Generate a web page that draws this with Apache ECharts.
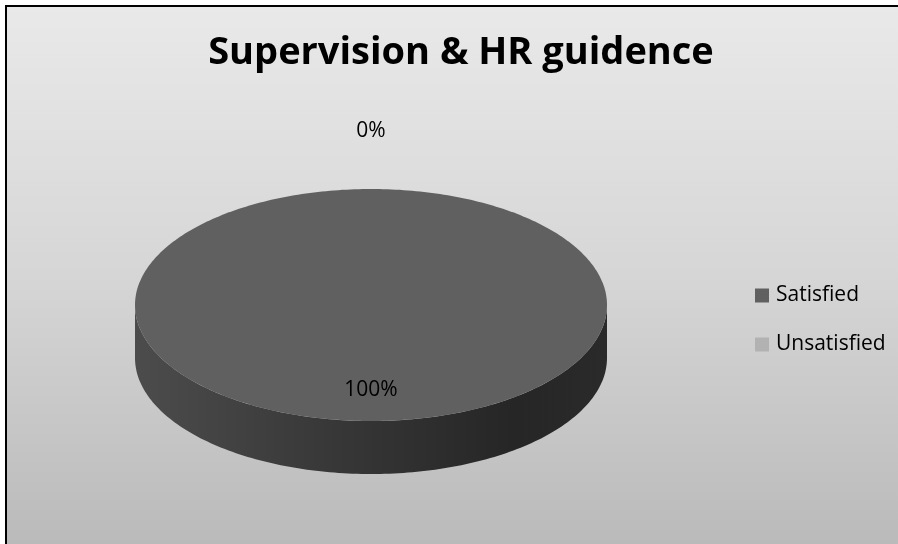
<!DOCTYPE html>
<html>
<head>
<meta charset="utf-8">
<script src="https://cdn.jsdelivr.net/npm/echarts@6/dist/echarts.min.js"></script>
<style>
  html, body { margin: 0; padding: 0; background: #fff; overflow: hidden; }
  #chart { width: 898px; height: 544px; }
</style>
</head>
<body>
<div id="chart"></div>
<script>
// Survey result: share of staff satisfied with supervision and HR guidance
const titleText = 'Supervision & HR guidence';
const categories = ['Satisfied', 'Unsatisfied'];
const values = [100, 0];
const topColors = ['#606060', '#b2b2b2'];

// 3D pie geometry (top ellipse + extruded side)
const CX = 371, CY = 305, RX = 236, RY = 116, DEPTH = 53;
const total = values.reduce((a, b) => a + b, 0);

function pt(theta, dy) {
  // angle measured clockwise from 12 o'clock
  return [CX + RX * Math.sin(theta), CY - RY * Math.cos(theta) + (dy || 0)];
}

function arcPoints(a, b, dy, steps) {
  const out = [];
  for (let k = 0; k <= steps; k++) {
    out.push(pt(a + (b - a) * k / steps, dy));
  }
  return out;
}

function renderSlice(params, api) {
  const idx = params.seriesIndex;
  const v = api.value(0);
  let before = 0;
  for (let j = 0; j < idx; j++) before += values[j];
  const a = before / total * Math.PI * 2;
  const b = (before + v) / total * Math.PI * 2;
  const children = [];
  const pct = Math.round(v / total * 100) + '%';

  if (v > 0) {
    // visible front part of the side wall: theta in [PI/2, 3PI/2]
    const sa = Math.max(a, Math.PI / 2), sb = Math.min(b, Math.PI * 1.5);
    if (sb > sa) {
      const top = arcPoints(sa, sb, 0, 160);
      const bottom = arcPoints(sb, sa, DEPTH, 160);
      children.push({
        type: 'polygon',
        z2: 1,
        shape: { points: top.concat(bottom) },
        style: {
          fill: {
            type: 'linear', x: 1, y: 0, x2: 0, y2: 0,
            colorStops: [
              { offset: 0, color: '#2a2a2a' },
              { offset: 0.2, color: '#262626' },
              { offset: 0.55, color: '#363636' },
              { offset: 1, color: '#4c4c4c' }
            ]
          }
        }
      });
    }
    // top face
    let pts;
    if (v >= total) {
      pts = arcPoints(0, Math.PI * 2, 0, 360);
    } else {
      pts = [[CX, CY]].concat(arcPoints(a, b, 0, 240));
    }
    children.push({
      type: 'polygon',
      z2: 2,
      shape: { points: pts },
      style: { fill: topColors[idx] }
    });
  }

  // data label: inside the slice, or outside when the slice is empty
  const mid = (a + b) / 2;
  const f = v > 0 ? 0.73 : 1.50;
  children.push({
    type: 'text',
    z2: 5,
    style: {
      text: pct,
      x: CX + RX * f * Math.sin(mid) * (v > 0 ? 1 : 0),
      y: CY - RY * f * Math.cos(mid),
      fill: '#000',
      fontSize: 21,
      fontFamily: '"Open Sans", sans-serif',
      align: 'center',
      verticalAlign: 'middle'
    }
  });
  return { type: 'group', children: children };
}

const chart = echarts.init(document.getElementById('chart'), null, { renderer: 'canvas' });

chart.setOption({
  backgroundColor: '#ffffff',
  animation: false,
  graphic: [
    {
      type: 'rect',
      z: -10,
      shape: { x: 6, y: 6, width: 892, height: 538 },
      style: {
        fill: {
          type: 'linear', x: 0, y: 0, x2: 0, y2: 1,
          colorStops: [
            { offset: 0, color: '#e9e9e9' },
            { offset: 0.5, color: '#d6d6d6' },
            { offset: 1, color: '#bababa' }
          ]
        }
      }
    },
    // chart-area frame: left and top edges
    {
      type: 'polyline',
      z: -9,
      shape: { points: [[6, 544], [6, 6], [898, 6]] },
      style: { stroke: '#000', lineWidth: 2, fill: null }
    }
  ],
  title: {
    text: titleText,
    left: 456,
    textAlign: 'center',
    top: 29,
    textStyle: {
      fontFamily: '"Open Sans", sans-serif',
      fontWeight: 'bold',
      fontSize: 38,
      color: '#000'
    }
  },
  legend: {
    orient: 'vertical',
    left: 750,
    top: 280,
    itemGap: 28,
    itemWidth: 14,
    itemHeight: 14,
    icon: 'rect',
    data: categories.map((c, i) => ({ name: c, itemStyle: { color: topColors[i] } })),
    textStyle: {
      fontFamily: '"Open Sans", sans-serif',
      fontSize: 21,
      color: '#000',
      padding: [0, 0, 0, 2]
    }
  },
  series: categories.map((c, i) => ({
    type: 'custom',
    name: c,
    coordinateSystem: 'none',
    itemStyle: { color: topColors[i] },
    data: [[values[i]]],
    renderItem: renderSlice
  }))
});
</script>
</body>
</html>
